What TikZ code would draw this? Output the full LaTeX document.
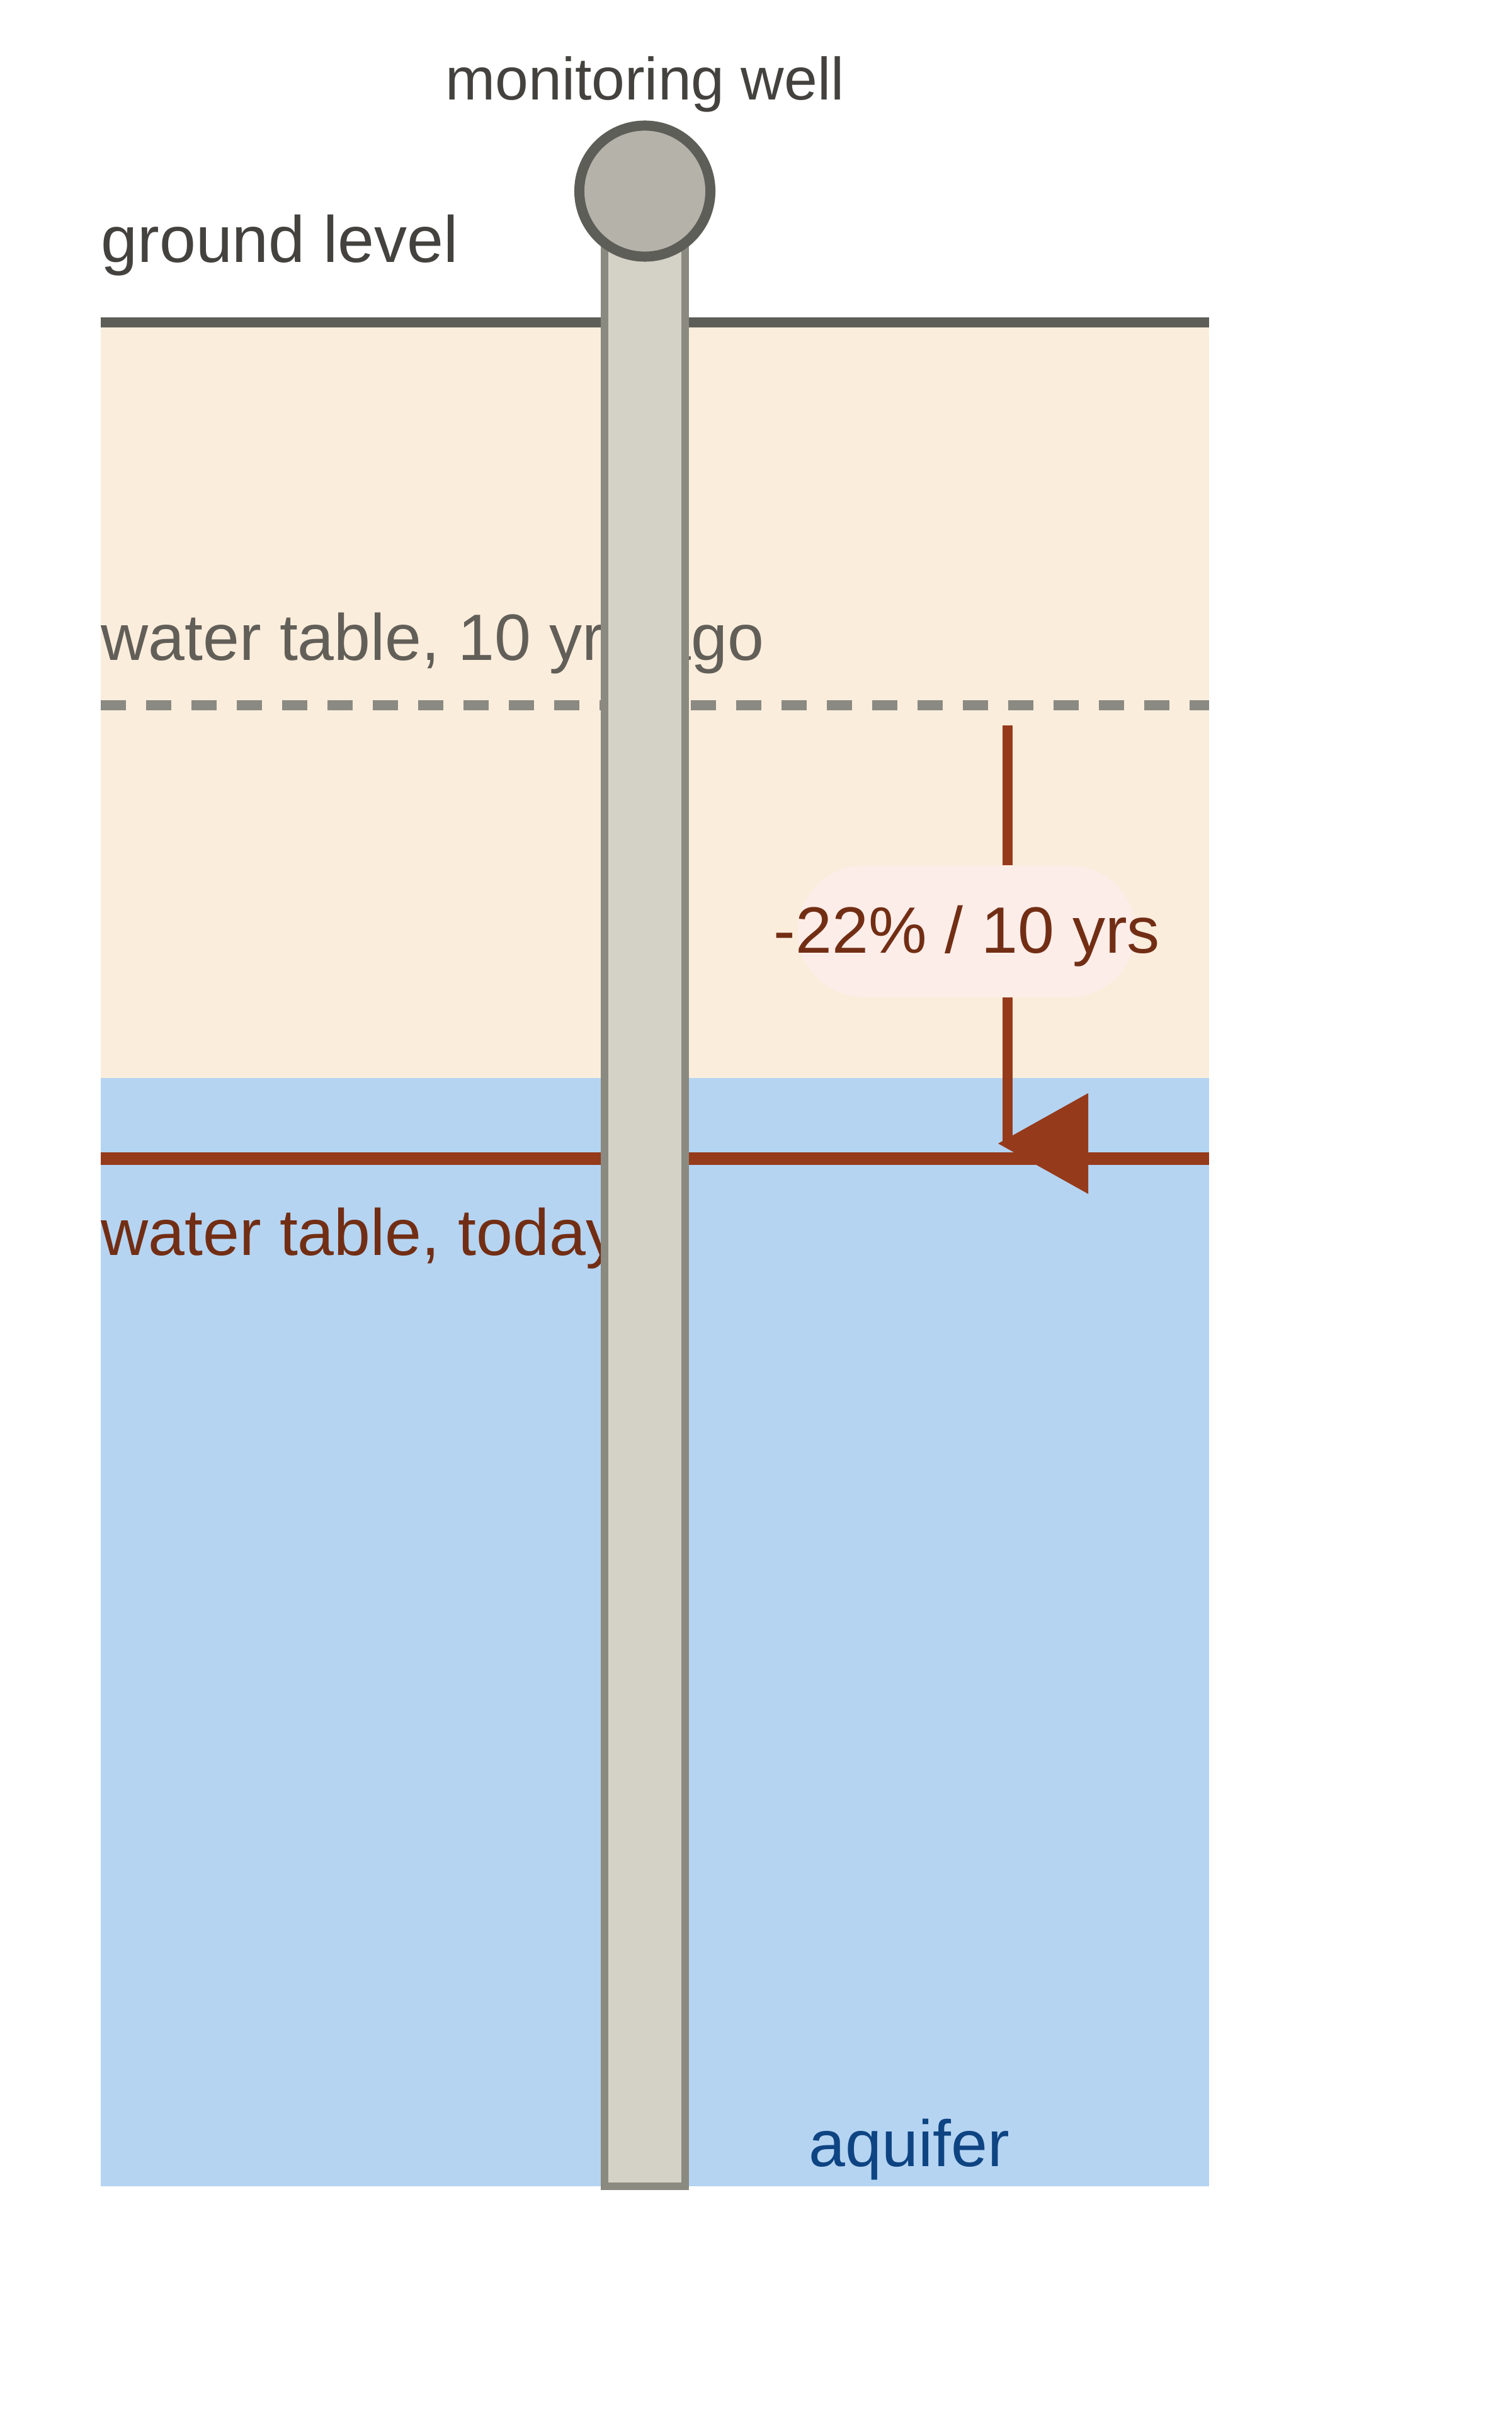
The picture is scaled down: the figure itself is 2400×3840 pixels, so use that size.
\documentclass[tikz,border=0pt]{standalone}
\usepackage{fontspec}
\setmainfont{Liberation Sans}
\usetikzlibrary{shapes.misc}

\definecolor{soil}{HTML}{FAEDDC}
\definecolor{water}{HTML}{B5D4F2}
\definecolor{groundgray}{HTML}{5E5E58}
\definecolor{oldgray}{HTML}{8A8A82}
\definecolor{rust}{HTML}{963A1C}
\definecolor{rustdark}{HTML}{722E14}
\definecolor{darktext}{HTML}{44423E}
\definecolor{oldtext}{HTML}{625E58}
\definecolor{aquifertext}{HTML}{0E4482}
\definecolor{ratefill}{HTML}{FCEDE9}
\definecolor{pipefill}{HTML}{D4D2C6}
\definecolor{pipeedge}{HTML}{8A8A80}
\definecolor{capfill}{HTML}{B5B2AA}
\definecolor{capedge}{HTML}{5E5E58}

\begin{document}
\begin{tikzpicture}[x=0.01cm, y=-0.01cm, every node/.style={inner sep=0},
    caption/.style={font=\fontsize{29.6}{34}\selectfont},
    levelline/.style={line width=0.16cm},
    drop/.style={line width=0.16cm, rust},
    ratebg/.style={rounded rectangle, fill=ratefill, minimum width=5.36cm, minimum height=2.08cm},
    pipe/.style={draw=pipeedge, fill=pipefill, line width=0.12cm},
    wellcap/.style={circle, draw=capedge, fill=capfill, line width=0.16cm, minimum size=2.08cm}]
  \useasboundingbox (0,0) rectangle (2400,3840);

  % Soil and aquifer
  \fill[soil] (160,512) rectangle (1920,1712);
  \fill[water] (160,1712) rectangle (1920,3472);

  % Levels
  \draw[levelline, groundgray] (160,512) -- (1920,512);
  \draw[levelline, oldgray, dash pattern=on 0.4cm off 0.32cm] (160,1120) -- (1920,1120);
  \draw[line width=0.2cm, rust] (160,1840) -- (1920,1840);

  % Level labels
  \node[caption, text=darktext, anchor=base west] (ground) at (160,417) {ground level};
  \node[caption, text=oldtext, anchor=base west] (oldlevel) at (160,1048) {water table, 10 yrs ago};
  \node[caption, text=rustdark, anchor=base west] (newlevel) at (160,1993) {water table, today};
  \node[caption, text=aquifertext, anchor=base] (aquifer) at (1444,3440) {aquifer};

  % Well
  \draw[pipe] (960,303) rectangle (1088,3472);
  \node[wellcap] (wellhead) at (1024,303.5) {};
  \node[font=\fontsize{27}{32}\selectfont, text=darktext, anchor=base] (welllabel) at (1024,159) {monitoring well};

  % Drop of the water table
  \coordinate (droptop) at (1600,1152);
  \coordinate (dropend) at (1600,1816);
  \node[ratebg] (ratebox) at (1535,1479) {};
  \node[caption, text=rustdark, anchor=base] (rate) at (1535.5,1513) {-22\% / 10 yrs};
  \draw[drop] (droptop) -- (droptop |- ratebox.north);
  \draw[drop] (droptop |- ratebox.south) -- (dropend);
  \fill[rust] (dropend) ++(-15,0) -- ++(143,-80) -- ++(0,160) -- cycle;
\end{tikzpicture}
\end{document}
